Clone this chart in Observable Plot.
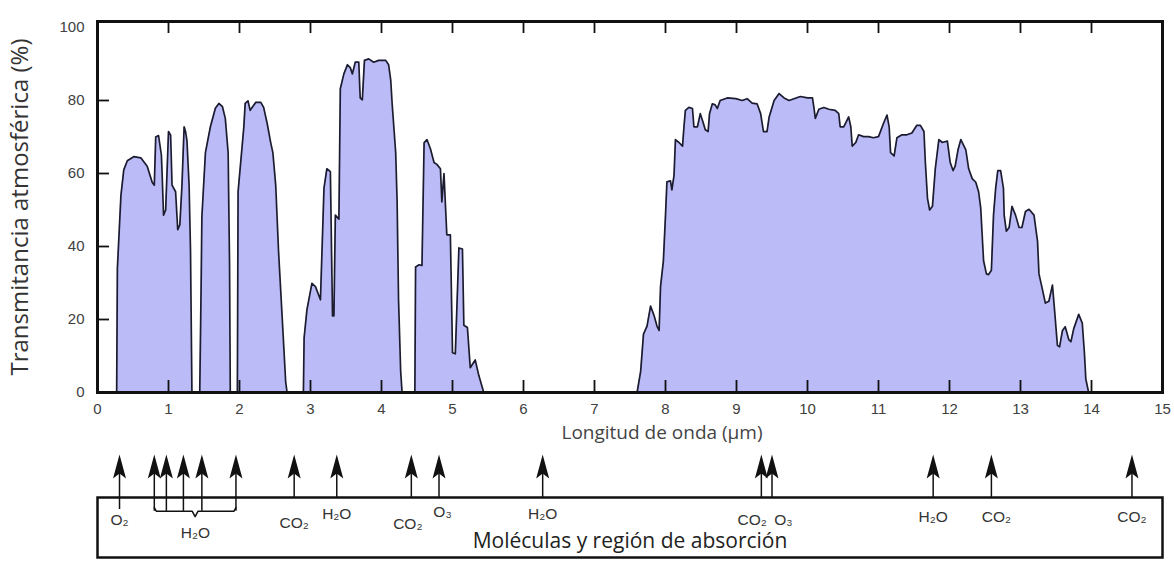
<!DOCTYPE html>
<html>
<head>
<meta charset="utf-8">
<script src="https://cdn.jsdelivr.net/npm/d3@7"></script>
<script src="https://cdn.jsdelivr.net/npm/@observablehq/plot@0.6"></script>
<style>
  html, body { margin: 0; padding: 0; background: #fff; }
  #chart { width: 1174px; height: 563px; overflow: hidden; }
  #chart svg { display: block; }
</style>
</head>
<body>
<div id="chart"></div>
<script>
// ---------- DATA ----------
// Atmospheric transmittance (%) vs wavelength (µm), window by window
const window1 = [[0,0],[0.27,0],[0.28,34],[0.30,42],[0.33,54],[0.37,61],[0.42,63.5],[0.51,64.6],[0.61,64.3],[0.70,62],[0.77,57.6],[0.80,56.8],[0.82,70],[0.86,70.4],[0.90,65],[0.91,60],[0.93,48.6],[0.96,50],[1.00,71.5],[1.03,70.5],[1.05,56.8],[1.10,55],[1.13,44.6],[1.16,46],[1.19,57],[1.22,72.8],[1.24,71.5],[1.26,69],[1.29,56.8],[1.31,38.7],[1.33,0]];
const window2 = [[1.44,0],[1.46,30],[1.47,48],[1.52,65.7],[1.59,72.8],[1.66,77.9],[1.71,79.2],[1.76,78.3],[1.80,75.1],[1.84,65.7],[1.86,35],[1.87,0]];
const window3 = [[1.97,0],[1.98,55],[2.06,72.5],[2.08,79.2],[2.12,79.9],[2.15,77.3],[2.23,79.5],[2.30,79.5],[2.34,78.1],[2.39,73.7],[2.44,68.4],[2.47,65.7],[2.51,56.8],[2.55,38.7],[2.60,21],[2.65,3],[2.67,0]];
const window4 = [[2.90,0],[2.91,15],[2.95,22.7],[3.02,29.9],[3.07,29],[3.14,25.4],[3.19,56],[3.23,61.3],[3.28,60.5],[3.31,21],[3.33,21],[3.35,48.6],[3.40,47.5],[3.42,83.2],[3.47,87.3],[3.52,89.8],[3.56,89],[3.59,87.3],[3.63,90.5],[3.68,90.5],[3.70,80.7],[3.73,80.2],[3.76,91],[3.82,91.4],[3.89,90.5],[3.96,91],[4.06,91],[4.10,89.8],[4.13,85.6],[4.15,79.1],[4.20,65.7],[4.22,52.2],[4.24,25.4],[4.27,5.8],[4.29,0]];
const window5 = [[4.47,0],[4.48,34.4],[4.53,35],[4.57,34.8],[4.60,68.4],[4.64,69.3],[4.69,66.7],[4.74,63],[4.78,62.5],[4.83,61.3],[4.85,52.2],[4.88,60],[4.92,43.2],[4.97,43.2],[5.00,10.9],[5.04,10.6],[5.09,39.6],[5.14,39.3],[5.16,18.4],[5.21,17.8],[5.25,6.8],[5.32,8.9],[5.37,4.7],[5.44,0]];
const window6 = [[7.60,0],[7.65,5.8],[7.69,16],[7.74,18.2],[7.79,23.7],[7.84,21],[7.88,18.2],[7.91,17],[7.93,29],[7.97,36],[8.00,48.6],[8.02,57.7],[8.07,58],[8.09,55.5],[8.12,59.5],[8.14,69.3],[8.19,68.5],[8.24,67.5],[8.26,72.8],[8.28,77.3],[8.33,78.1],[8.38,77.8],[8.40,72.8],[8.45,72.8],[8.49,76.4],[8.53,74],[8.56,72],[8.60,71.5],[8.62,76.4],[8.66,79.1],[8.70,78.8],[8.73,77.8],[8.77,80],[8.87,80.7],[8.99,80.5],[9.08,80],[9.15,80.5],[9.22,79.3],[9.29,79.1],[9.34,76.4],[9.38,71.5],[9.43,71.5],[9.46,75.5],[9.53,80],[9.60,81.9],[9.67,80.7],[9.74,80],[9.81,80.5],[9.90,81.1],[10.00,80.7],[10.07,80.7],[10.09,78.1],[10.11,75.1],[10.16,77.6],[10.23,78.1],[10.30,77.6],[10.39,77.3],[10.44,76.4],[10.46,72.8],[10.51,72.8],[10.58,75.5],[10.61,72.8],[10.63,67.5],[10.68,68.5],[10.72,70.6],[10.79,70.1],[10.86,70.1],[10.93,69.8],[11.00,70.1],[11.07,73.7],[11.12,76],[11.15,72.8],[11.17,65.7],[11.22,64.8],[11.26,69.8],[11.33,70.6],[11.40,70.6],[11.47,71.1],[11.54,73.2],[11.59,73.2],[11.64,71.5],[11.66,63],[11.69,53.2],[11.72,50],[11.76,51],[11.80,61.3],[11.85,69.3],[11.90,68.5],[11.97,68.9],[12.01,63],[12.05,60.8],[12.08,62],[12.12,66.5],[12.16,69.3],[12.23,66.5],[12.27,61.3],[12.32,58.6],[12.37,57.6],[12.41,55],[12.44,50.5],[12.46,43.2],[12.48,36.1],[12.52,32.5],[12.55,32.3],[12.59,33.5],[12.62,48.6],[12.65,55.9],[12.68,60.8],[12.72,60.8],[12.76,55.9],[12.77,48.6],[12.80,44.2],[12.84,45.2],[12.88,51],[12.93,48.6],[12.98,45.2],[13.02,45.2],[13.07,49.6],[13.12,50.2],[13.19,48.6],[13.24,41.4],[13.26,32.5],[13.31,28.1],[13.35,24.5],[13.40,25],[13.45,29.4],[13.48,22.5],[13.52,12.9],[13.55,12.5],[13.59,16.9],[13.63,18],[13.68,14.5],[13.71,13.9],[13.75,17.5],[13.82,21.4],[13.87,19],[13.90,10.9],[13.92,3.7],[13.96,0],[15,0]];

// axis ticks
const xTicks = [0,1,2,3,4,5,6,7,8,9,10,11,12,13,14,15];
const yTicks = [0,20,40,60,80,100];

// absorption arrows
const absorberWavelength = [0.31, 0.80, 0.97, 1.21, 1.47, 1.95, 2.77, 3.37, 4.42, 4.81, 6.27, 9.35, 9.50, 11.77, 12.59, 14.57];
const absorberMolecule   = ["O₂","H₂O","H₂O","H₂O","H₂O","H₂O","CO₂","H₂O","CO₂","O₃","H₂O","CO₂","O₃","H₂O","CO₂","CO₂"];
const absorberBraced     = [false,true,true,true,true,true,false,false,false,false,false,false,false,false,false,false];

// molecule labels in the lower panel
const labelText       = ["O₂","H₂O","CO₂","H₂O","CO₂","O₃","H₂O","CO₂","O₃","H₂O","CO₂","CO₂"];
const labelWavelength = [0.31, 1.38, 2.77, 3.37, 4.37, 4.86, 6.27, 9.22, 9.66, 11.77, 12.66, 14.57];

// ---------- LAYOUT / STYLE ----------
const W = 1174, H1 = 447, H2 = 116;
const frame = {left: 97, right: 1162, top: 21, bottom: 392};
const yInsetTop = 6;
const labelLevel = [0.62, 0.40, 0.58, 0.73, 0.55, 0.75, 0.73, 0.63, 0.63, 0.68, 0.68, 0.68];
const braceY = 0.77, shaftTop = 1.45, headY = 1.317;
const fillColor = "#bbbbf8", lineColor = "#1c1c30", ink = "#111";
const tickFont = "'Liberation Sans', Arial, sans-serif";
const titleFont = "'Open Sans', 'DejaVu Sans', sans-serif";

// ---------- BUILD ----------
const curve = [...window1, ...window2, ...window3, ...window4, ...window5, ...window6]
  .map(([w, t]) => ({w, t}));
const innerX = xTicks.filter(k => k > 0 && k < 15).map(k => ({k}));
const innerY = yTicks.filter(v => v > 0 && v < 100).map(v => ({v}));
const frameW = frame.right - frame.left, frameH = frame.bottom - frame.top;
const tickLen = 12;
const pxPerY = (frameH - yInsetTop) / 100;
const pxPerX = frameW / 15;
const tickY = tickLen / pxPerY, tickX = tickLen / pxPerX;
const topValue = frameH / pxPerY;   // value at the frame's top edge

const main = Plot.plot({
  width: W, height: H1,
  marginLeft: frame.left, marginRight: W - frame.right,
  marginTop: frame.top, marginBottom: H1 - frame.bottom,
  style: {fontFamily: tickFont, fontSize: "15px", color: "#404040", background: "white"},
  x: {domain: [0, 15], ticks: xTicks, tickSize: 0, tickPadding: 11, label: null},
  y: {domain: [0, 100], insetTop: yInsetTop, ticks: yTicks, tickSize: 0, tickPadding: 13, label: null},
  marks: [
    Plot.areaY(curve, {x: "w", y: "t", fill: fillColor}),
    Plot.line(curve, {x: "w", y: "t", stroke: lineColor, strokeWidth: 1.7}),
    // inward ticks (bottom, top, left)
    Plot.ruleX(innerX, {x: "k", y1: 0, y2: tickY, stroke: ink, strokeWidth: 1.8}),
    Plot.ruleX(innerX, {x: "k", y1: topValue, y2: topValue - tickY, stroke: ink, strokeWidth: 1.8}),
    Plot.ruleY(innerY, {y: "v", x1: 0, x2: tickX, stroke: ink, strokeWidth: 1.8}),
    Plot.frame({stroke: ink, strokeWidth: 3}),
    Plot.text(["Transmitancia atmosférica (%)"], {text: d => d, frameAnchor: "left", dx: -77, rotate: -90,
      textAnchor: "middle", fontFamily: titleFont, fontSize: 24, fill: "#333"}),
    Plot.text(["Longitud de onda (µm)"], {text: d => d, frameAnchor: "bottom", dy: 46, dx: 32,
      textAnchor: "middle", fontFamily: titleFont, fontSize: 19, fill: "#444"})
  ]
});

const arrows = absorberWavelength.map((w, i) => ({w, name: absorberMolecule[i], braced: absorberBraced[i]}));
const braced = arrows.filter(d => d.braced).map(d => d.w);
const bL = d3.min(braced), bR = d3.max(braced), bM = (bL + bR) / 2;
const brace = [[bL, braceY + 0.06], [bL + 0.03, braceY], [bM - 0.04, braceY], [bM, braceY - 0.09],
               [bM + 0.04, braceY], [bR - 0.03, braceY], [bR, braceY + 0.06]].map(([w, y]) => ({w, y}));
const labels = labelText.map((t, i) => ({t, w: labelWavelength[i], y: labelLevel[i]}));

const dart = {
  draw(ctx) {
    ctx.moveTo(0, -24);
    ctx.lineTo(6.5, 0);
    ctx.lineTo(0, -5);
    ctx.lineTo(-6.5, 0);
    ctx.closePath();
  }
};

const lower = Plot.plot({
  width: W, height: H2,
  marginLeft: frame.left, marginRight: W - frame.right, marginTop: 50, marginBottom: 6,
  style: {fontFamily: tickFont, fontSize: "15px", color: "#333", background: "white"},
  x: {domain: [0, 15], axis: null},
  y: {domain: [0, 1], axis: null},
  marks: [
    Plot.frame({stroke: ink, strokeWidth: 2.5}),
    Plot.ruleX(arrows, {x: "w", y1: d => d.braced ? braceY : (d.name === "O₂" ? 0.8 : 1), y2: shaftTop,
      stroke: ink, strokeWidth: 1.5}),
    Plot.dot(arrows, {x: "w", y: headY, symbol: dart, fill: ink, stroke: "none", r: 6}),
    Plot.line(brace, {x: "w", y: "y", stroke: ink, strokeWidth: 1.5}),
    Plot.text(labels, {x: "w", y: "y", text: "t", fontSize: 15.5, fill: "#333", fontFamily: tickFont}),
    Plot.text(["Moléculas y región de absorción"], {text: d => d, frameAnchor: "bottom", dy: -10,
      textAnchor: "middle", fontFamily: titleFont, fontSize: 21, fill: "#222"})
  ]
});

const root = document.getElementById("chart");
root.appendChild(main);
root.appendChild(lower);
</script>
</body>
</html>
